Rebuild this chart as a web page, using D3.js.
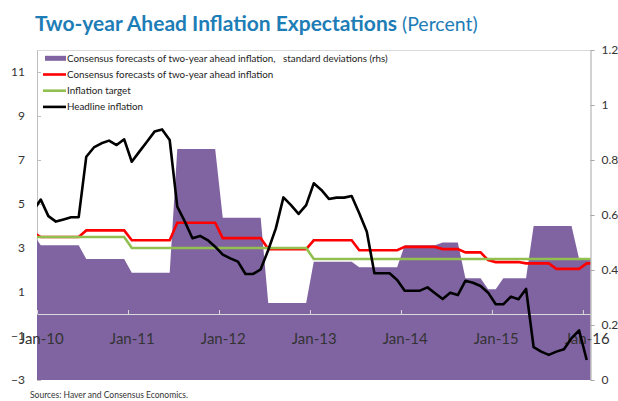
<!DOCTYPE html>
<html>
<head>
<meta charset="utf-8">
<script src="https://cdn.jsdelivr.net/npm/d3@7"></script>
<style>
  body { margin: 0; background: #fff; }
  text { font-family: Lato, "Open Sans", sans-serif; }
</style>
</head>
<body>
<div id="chart"></div>
<script>
// months are counted from Jan-10 = 0; every series starts at Dec-09 (-1)
var firstMonth = -1;
var tickMonths = [0, 12, 24, 36, 48, 60, 72];
var tickLabels = ["Jan-10", "Jan-11", "Jan-12", "Jan-13", "Jan-14", "Jan-15", "Jan-16"];
var leftTicks = [-3, -1, 1, 3, 5, 7, 9, 11];
var rightTicks = [0, 0.2, 0.4, 0.6, 0.8, 1, 1.2];

// Consensus forecasts of two-year ahead inflation, standard deviations (rhs), Dec-09 .. Feb-16
var stdDev = [0.53,
  0.49, 0.49, 0.49, 0.49, 0.49, 0.49, 0.44, 0.44, 0.44, 0.44, 0.44, 0.44,
  0.39, 0.39, 0.39, 0.39, 0.39, 0.39, 0.84, 0.84, 0.84, 0.84, 0.84, 0.84,
  0.59, 0.59, 0.59, 0.59, 0.59, 0.59, 0.28, 0.28, 0.28, 0.28, 0.28, 0.28,
  0.43, 0.43, 0.43, 0.43, 0.43, 0.43, 0.41, 0.41, 0.41, 0.41, 0.41, 0.41,
  0.49, 0.49, 0.49, 0.49, 0.49, 0.50, 0.50, 0.50, 0.37, 0.37, 0.37, 0.33,
  0.33, 0.37, 0.37, 0.37, 0.37, 0.56, 0.56, 0.56, 0.56, 0.56, 0.56, 0.44,
  0.44, 0.44];

// Consensus forecasts of two-year ahead inflation, Dec-09 .. Feb-16
var consensus = [3.7,
  3.5, 3.5, 3.5, 3.5, 3.5, 3.5, 3.8, 3.8, 3.8, 3.8, 3.8, 3.8,
  3.35, 3.35, 3.35, 3.35, 3.35, 3.35, 4.15, 4.15, 4.15, 4.15, 4.15, 4.15,
  3.45, 3.45, 3.45, 3.45, 3.45, 3.45, 2.95, 2.95, 2.95, 2.95, 2.95, 2.95,
  3.35, 3.35, 3.35, 3.35, 3.35, 3.35, 2.9, 2.9, 2.9, 2.9, 2.9, 2.9,
  3.05, 3.05, 3.05, 3.05, 3.05, 2.95, 2.95, 2.95, 2.8, 2.8, 2.8, 2.45,
  2.36, 2.36, 2.36, 2.36, 2.3, 2.3, 2.3, 2.3, 2.05, 2.05, 2.05, 2.05,
  2.3, 2.3];

// Inflation target, Dec-09 .. Feb-16
var target = [3.5,
  3.5, 3.5, 3.5, 3.5, 3.5, 3.5, 3.5, 3.5, 3.5, 3.5, 3.5, 3.5,
  3, 3, 3, 3, 3, 3, 3, 3, 3, 3, 3, 3,
  3, 3, 3, 3, 3, 3, 3, 3, 3, 3, 3, 3,
  2.5, 2.5, 2.5, 2.5, 2.5, 2.5, 2.5, 2.5, 2.5, 2.5, 2.5, 2.5,
  2.5, 2.5, 2.5, 2.5, 2.5, 2.5, 2.5, 2.5, 2.5, 2.5, 2.5, 2.5,
  2.5, 2.5, 2.5, 2.5, 2.5, 2.5, 2.5, 2.5, 2.5, 2.5, 2.5, 2.5,
  2.5, 2.5];

// Headline inflation, Dec-09 .. Jan-16
var headline = [4.7,
  5.2, 4.45, 4.2, 4.3, 4.4, 4.4, 7.15, 7.57, 7.76, 7.88, 7.68, 7.94,
  6.92, 7.38, 7.83, 8.29, 8.39, 7.91, 4.88, 4.2, 3.44, 3.55, 3.36, 3.06,
  2.7, 2.53, 2.38, 1.82, 1.82, 2.03, 2.91, 3.89, 5.3, 4.95, 4.55, 4.95,
  5.94, 5.64, 5.23, 5.29, 5.29, 5.36, 4.58, 3.74, 1.85, 1.85, 1.85, 1.55,
  1.06, 1.06, 1.06, 1.21, 0.94, 0.68, 0.97, 0.86, 1.51, 1.42, 1.27, 0.97,
  0.44, 0.44, 0.79, 0.67, 1.14, -1.51, -1.71, -1.86, -1.71, -1.6, -1.1, -0.75,
  -2.09];

var width = 618, height = 401;
var plot = { left: 37, right: 590.5, top: 50, bottom: 380 };

var svg = d3.select("#chart")
    .append("svg")
    .attr("width", width)
    .attr("height", height);

// month index -> category centre, ticks sit on the boundaries
var x = d3.scaleLinear()
    .domain([-0.5, 72.5])
    .range([plot.left, plot.right]);

var yL = d3.scaleLinear()
    .domain([-3, 12])
    .range([plot.bottom, plot.top]);

var yR = d3.scaleLinear()
    .domain([0, 1.2])
    .range([plot.bottom, plot.top]);

svg.append("clipPath")
    .attr("id", "plotClip")
    .append("rect")
    .attr("x", plot.left)
    .attr("y", plot.top)
    .attr("width", plot.right - plot.left)
    .attr("height", plot.bottom - plot.top);

var purple = "#8064a2";

// top border of the plot
svg.append("line")
    .attr("x1", plot.left).attr("x2", plot.right)
    .attr("y1", plot.top + 0.5).attr("y2", plot.top + 0.5)
    .style("stroke", "#d9d9d9");

// left axis, ticks pointing inwards
var leftAxis = svg.append("g")
    .attr("transform", "translate(" + plot.left + ",0)")
    .call(d3.axisLeft(yL).tickValues(leftTicks).tickSizeInner(-4).tickSizeOuter(0).tickPadding(12));
leftAxis.select(".domain").style("stroke", "#bfbfbf");
leftAxis.selectAll(".tick line").style("stroke", "#bfbfbf");
leftAxis.selectAll("text").style("font-size", "12px").style("fill", "#333");

// std dev area (rhs)
var area = d3.area()
    .x(function(d, k) { return x(firstMonth + k); })
    .y0(yR(0))
    .y1(function(d) { return yR(d); });

svg.append("path")
    .datum(stdDev)
    .attr("clip-path", "url(#plotClip)")
    .attr("fill", purple)
    .attr("d", area);

// category axis crossing at 0
var xAxis = svg.append("g")
    .attr("transform", "translate(0," + yL(0) + ")")
    .call(d3.axisBottom(x)
        .tickValues(tickMonths.map(function(m) { return m - 0.5; }))
        .tickSizeInner(-4)
        .tickSizeOuter(0)
        .tickPadding(19)
        .tickFormat(function(d, i) { return tickLabels[i]; }));
xAxis.select(".domain").style("stroke", "#d9d9d9");
xAxis.selectAll(".tick line").style("stroke", "#d9d9d9");
xAxis.selectAll("text")
    .attr("dx", (x(1) - x(0)) / 2)
    .style("font-size", "15px")
    .style("fill", "#333");

var line = d3.line()
    .x(function(d, k) { return x(firstMonth + k); })
    .y(function(d) { return yL(d); });

var thickness = 2.6;

svg.append("path")
    .datum(consensus)
    .attr("clip-path", "url(#plotClip)")
    .attr("fill", "none")
    .attr("stroke", "#ff0000")
    .attr("stroke-width", thickness)
    .attr("d", line);

svg.append("path")
    .datum(target)
    .attr("clip-path", "url(#plotClip)")
    .attr("fill", "none")
    .attr("stroke", "#92c050")
    .attr("stroke-width", thickness)
    .attr("d", line);

svg.append("path")
    .datum(headline)
    .attr("clip-path", "url(#plotClip)")
    .attr("fill", "none")
    .attr("stroke", "#000")
    .attr("stroke-width", thickness)
    .attr("stroke-linejoin", "round")
    .attr("d", line);

// right axis
var rightAxis = svg.append("g")
    .attr("transform", "translate(" + plot.right + ",0)")
    .call(d3.axisRight(yR).tickValues(rightTicks).tickSizeInner(4).tickSizeOuter(0).tickPadding(7)
        .tickFormat(function(d) { return String(d); }));
rightAxis.select(".domain").style("stroke", "#a6a6a6");
rightAxis.selectAll(".tick line").style("stroke", "#a6a6a6");
rightAxis.selectAll("text").style("font-size", "12px").style("fill", "#333");

// legend
var legendItems = [
    { label: "Consensus forecasts of two-year ahead inflation,\u00a0\u00a0\u00a0standard deviations (rhs)", color: purple, kind: "rect" },
    { label: "Consensus forecasts of two-year ahead inflation", color: "#ff0000", kind: "line" },
    { label: "Inflation target", color: "#92c050", kind: "line" },
    { label: "Headline inflation", color: "#000", kind: "line" }
];

var legend = svg.append("g");
legendItems.forEach(function(item, i) {
    var cy = 58.3 + i * 16.2;
    if (item.kind === "rect") {
        legend.append("rect")
            .attr("x", 45).attr("y", cy - 2.5)
            .attr("width", 21).attr("height", 5)
            .attr("fill", item.color);
    } else {
        legend.append("line")
            .attr("x1", 43).attr("x2", 66)
            .attr("y1", cy).attr("y2", cy)
            .style("stroke", item.color)
            .style("stroke-width", 2.6);
    }
    legend.append("text")
        .attr("x", 67)
        .attr("y", cy + 3.5)
        .style("font-size", "9.8px")
        .style("fill", "#222")
        .text(item.label);
});

// title
var title = svg.append("text")
    .attr("x", 35)
    .attr("y", 31)
    .style("fill", "#1d7db6");
title.append("tspan")
    .style("font-weight", "bold")
    .style("font-size", "21px")
    .text("Two-year Ahead Inflation Expectations");
title.append("tspan")
    .style("font-size", "19.5px")
    .text(" (Percent)");

// source note
svg.append("text")
    .attr("x", 30)
    .attr("y", 398)
    .style("font-size", "8.5px")
    .style("fill", "#333")
    .text("Sources: Haver and Consensus Economics.");
</script>
</body>
</html>
